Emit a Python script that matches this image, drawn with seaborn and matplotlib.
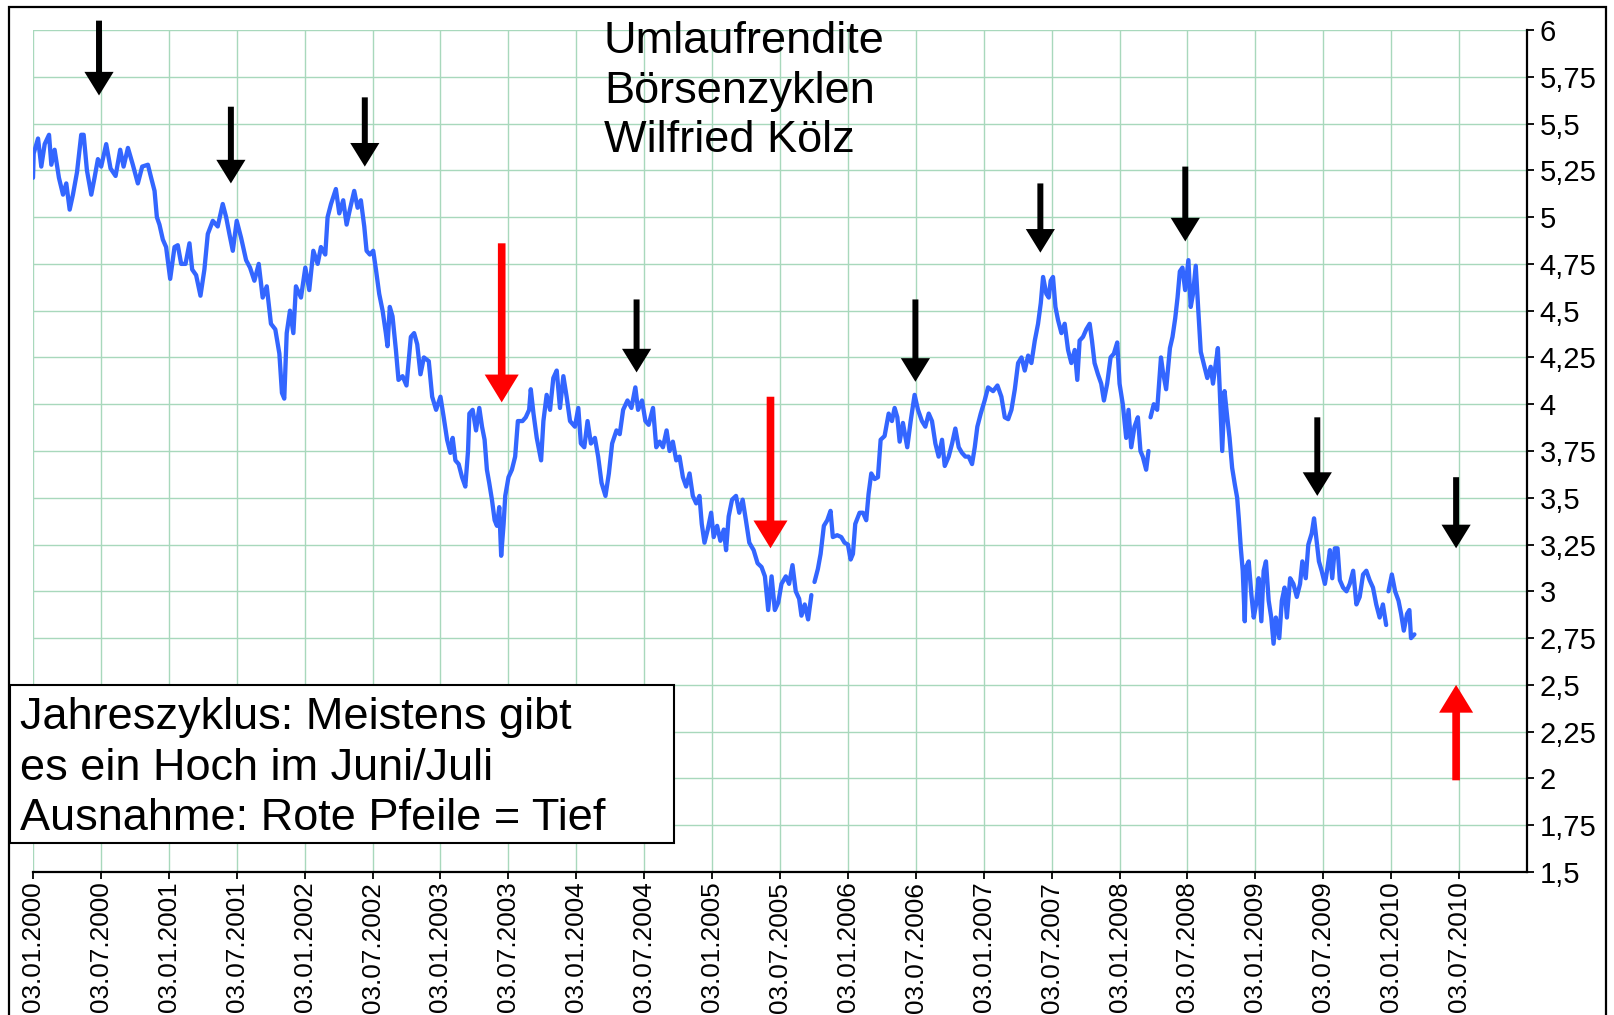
import numpy as np
import pandas as pd
import seaborn as sns
import matplotlib.pyplot as plt
from matplotlib.patches import Rectangle

# Umlaufrendite (years after 03.01.2000, percent); nan = gap in the series
years_since_start = [
    0.000, 0.005, 0.037, 0.061, 0.086, 0.118, 0.135, 0.159, 0.191, 0.221, 0.245, 0.270, 0.294, 0.324,
    0.355, 0.373, 0.397, 0.429, 0.453, 0.478, 0.502, 0.539, 0.571, 0.608, 0.642, 0.667, 0.699, 0.735,
    0.772, 0.804, 0.846, 0.870, 0.895, 0.912, 0.931, 0.956, 0.980, 1.010, 1.042, 1.066, 1.091, 1.123,
    1.152, 1.172, 1.201, 1.233, 1.262, 1.287, 1.324, 1.360, 1.397, 1.422, 1.446, 1.471, 1.500, 1.532,
    1.569, 1.598, 1.630, 1.662, 1.691, 1.721, 1.752, 1.784, 1.814, 1.833, 1.850, 1.868, 1.892, 1.917,
    1.936, 1.973, 2.005, 2.034, 2.064, 2.096, 2.120, 2.152, 2.169, 2.194, 2.230, 2.255, 2.284, 2.309,
    2.333, 2.365, 2.390, 2.414, 2.439, 2.456, 2.480, 2.505, 2.525, 2.549, 2.574, 2.598, 2.610, 2.627,
    2.647, 2.672, 2.691, 2.721, 2.750, 2.782, 2.806, 2.829, 2.853, 2.878, 2.914, 2.939, 2.968, 3.000,
    3.024, 3.049, 3.073, 3.090, 3.110, 3.134, 3.159, 3.183, 3.203, 3.213, 3.237, 3.262, 3.286, 3.306,
    3.325, 3.342, 3.359, 3.379, 3.399, 3.416, 3.433, 3.447, 3.465, 3.477, 3.501, 3.526, 3.550, 3.570,
    3.604, 3.628, 3.653, 3.665, 3.685, 3.709, 3.741, 3.758, 3.782, 3.807, 3.831, 3.856, 3.880, 3.905,
    3.929, 3.954, 3.990, 4.015, 4.034, 4.059, 4.083, 4.108, 4.137, 4.161, 4.186, 4.215, 4.240, 4.264,
    4.296, 4.320, 4.345, 4.377, 4.406, 4.435, 4.455, 4.484, 4.509, 4.533, 4.565, 4.589, 4.614, 4.638,
    4.665, 4.687, 4.711, 4.736, 4.760, 4.785, 4.809, 4.834, 4.858, 4.883, 4.907, 4.924, 4.944, 4.968,
    4.993, 5.012, 5.037, 5.061, 5.086, 5.103, 5.122, 5.147, 5.176, 5.200, 5.225, 5.249, 5.274, 5.306,
    5.335, 5.364, 5.389, 5.413, 5.438, 5.462, 5.487, 5.511, 5.543, 5.567, 5.592, 5.616, 5.641, 5.658,
    5.682, 5.707, 5.731, 5.742,
    5.754, 5.779, 5.799, 5.823, 5.848, 5.872, 5.889, 5.921, 5.951, 5.975, 6.000, 6.020, 6.037, 6.054,
    6.086, 6.111, 6.135, 6.152, 6.172, 6.197, 6.221, 6.241, 6.270, 6.300, 6.324, 6.344, 6.364, 6.381,
    6.405, 6.437, 6.462, 6.491, 6.516, 6.545, 6.570, 6.595, 6.619, 6.644, 6.668, 6.693, 6.713, 6.742,
    6.767, 6.791, 6.816, 6.840, 6.865, 6.889, 6.914, 6.934, 6.953, 6.978, 7.007, 7.032, 7.069, 7.101,
    7.130, 7.155, 7.180, 7.204, 7.229, 7.253, 7.278, 7.302, 7.327, 7.351, 7.376, 7.400, 7.420, 7.437,
    7.461, 7.479, 7.493, 7.510, 7.528, 7.547, 7.572, 7.596, 7.621, 7.645, 7.670, 7.689, 7.706, 7.731,
    7.755, 7.780, 7.797, 7.816, 7.841, 7.865, 7.885, 7.909, 7.934, 7.958, 7.983, 8.000, 8.024, 8.049,
    8.066, 8.086, 8.110, 8.135, 8.154, 8.171, 8.196, 8.213, 8.220,
    8.228, 8.252, 8.277, 8.305, 8.318, 8.343, 8.371, 8.390, 8.410, 8.427, 8.444, 8.463, 8.483, 8.507,
    8.524, 8.541, 8.561, 8.580, 8.598, 8.622, 8.646, 8.671, 8.688, 8.707, 8.724, 8.737, 8.756, 8.773,
    8.793, 8.810, 8.829, 8.849, 8.866, 8.878, 8.893, 8.907, 8.922, 8.932, 8.951, 8.971, 8.988, 9.005,
    9.024, 9.044, 9.061, 9.078, 9.098, 9.117, 9.134, 9.151, 9.176, 9.195, 9.215, 9.232, 9.256, 9.280,
    9.305, 9.329, 9.346, 9.371, 9.390, 9.415, 9.432, 9.451, 9.468, 9.488, 9.512, 9.532, 9.549, 9.566,
    9.585, 9.605, 9.622, 9.646, 9.671, 9.695, 9.720, 9.744, 9.768, 9.793, 9.817, 9.841, 9.866, 9.890,
    9.915, 9.939, 9.963, 9.971,
    9.980, 10.005, 10.029, 10.054, 10.073, 10.093, 10.117, 10.134, 10.146, 10.171,
]
yield_pct = [
    5.21, 5.34, 5.42, 5.27, 5.39, 5.44, 5.28, 5.36, 5.21, 5.12, 5.18, 5.04, 5.12, 5.24,
    5.44, 5.44, 5.25, 5.12, 5.21, 5.31, 5.27, 5.39, 5.26, 5.22, 5.36, 5.27, 5.37, 5.28,
    5.18, 5.27, 5.28, 5.21, 5.14, 5.00, 4.96, 4.88, 4.84, 4.67, 4.84, 4.85, 4.75, 4.75,
    4.86, 4.72, 4.69, 4.58, 4.72, 4.91, 4.98, 4.95, 5.07, 5.00, 4.91, 4.82, 4.98, 4.89,
    4.77, 4.73, 4.66, 4.75, 4.57, 4.63, 4.43, 4.40, 4.27, 4.06, 4.03, 4.38, 4.50, 4.38,
    4.63, 4.57, 4.73, 4.61, 4.82, 4.75, 4.84, 4.80, 5.00, 5.07, 5.15, 5.02, 5.09, 4.96,
    5.04, 5.14, 5.05, 5.09, 4.95, 4.82, 4.80, 4.82, 4.72, 4.59, 4.50, 4.38, 4.31, 4.52,
    4.47, 4.29, 4.13, 4.15, 4.10, 4.36, 4.38, 4.32, 4.16, 4.25, 4.23, 4.04, 3.97, 4.04,
    3.93, 3.81, 3.74, 3.82, 3.70, 3.68, 3.61, 3.56, 3.75, 3.95, 3.97, 3.86, 3.98, 3.88,
    3.81, 3.65, 3.58, 3.49, 3.38, 3.35, 3.45, 3.19, 3.36, 3.51, 3.61, 3.65, 3.72, 3.91,
    3.91, 3.93, 3.97, 4.08, 3.95, 3.82, 3.70, 3.91, 4.05, 3.97, 4.14, 4.18, 3.98, 4.15,
    4.04, 3.91, 3.88, 3.98, 3.79, 3.77, 3.91, 3.79, 3.82, 3.72, 3.58, 3.51, 3.63, 3.79,
    3.86, 3.84, 3.97, 4.02, 3.98, 4.09, 3.97, 4.02, 3.91, 3.89, 3.98, 3.77, 3.80, 3.77,
    3.86, 3.75, 3.80, 3.70, 3.72, 3.61, 3.56, 3.63, 3.51, 3.47, 3.51, 3.36, 3.26, 3.33,
    3.42, 3.29, 3.35, 3.27, 3.33, 3.22, 3.40, 3.49, 3.51, 3.42, 3.49, 3.38, 3.26, 3.22,
    3.15, 3.13, 3.08, 2.90, 3.08, 2.90, 2.94, 3.04, 3.08, 3.04, 3.14, 3.00, 2.96, 2.87,
    2.93, 2.85, 2.98, np.nan,
    3.05, 3.12, 3.20, 3.35, 3.38, 3.43, 3.29, 3.30, 3.29, 3.26, 3.25, 3.17, 3.20, 3.36,
    3.42, 3.42, 3.38, 3.52, 3.63, 3.60, 3.61, 3.81, 3.83, 3.95, 3.91, 3.98, 3.93, 3.80,
    3.90, 3.77, 3.91, 4.05, 3.97, 3.91, 3.88, 3.95, 3.91, 3.79, 3.72, 3.81, 3.67, 3.72,
    3.79, 3.87, 3.77, 3.74, 3.72, 3.72, 3.68, 3.77, 3.88, 3.95, 4.02, 4.09, 4.07, 4.10,
    4.04, 3.93, 3.92, 3.97, 4.08, 4.22, 4.25, 4.18, 4.26, 4.22, 4.34, 4.43, 4.54, 4.68,
    4.59, 4.57, 4.66, 4.68, 4.52, 4.45, 4.38, 4.43, 4.29, 4.22, 4.29, 4.13, 4.34, 4.36,
    4.40, 4.43, 4.34, 4.22, 4.16, 4.11, 4.02, 4.11, 4.25, 4.27, 4.33, 4.11, 4.00, 3.82,
    3.97, 3.77, 3.88, 3.93, 3.75, 3.72, 3.65, 3.75, np.nan,
    3.93, 4.00, 3.97, 4.25, 4.18, 4.08, 4.30, 4.36, 4.46, 4.57, 4.71, 4.73, 4.61, 4.77,
    4.52, 4.59, 4.74, 4.50, 4.28, 4.21, 4.14, 4.20, 4.11, 4.21, 4.30, 4.09, 3.75, 4.07,
    3.93, 3.82, 3.66, 3.57, 3.50, 3.39, 3.23, 3.11, 2.84, 3.13, 3.16, 2.98, 2.86, 2.93,
    3.07, 2.84, 3.11, 3.16, 2.95, 2.86, 2.72, 2.86, 2.75, 2.95, 3.02, 2.86, 3.07, 3.04,
    2.97, 3.04, 3.16, 3.07, 3.25, 3.31, 3.39, 3.27, 3.16, 3.11, 3.04, 3.13, 3.22, 3.07,
    3.23, 3.23, 3.06, 3.02, 3.00, 3.04, 3.11, 2.93, 2.97, 3.09, 3.11, 3.06, 3.02, 2.93,
    2.86, 2.93, 2.82, np.nan,
    3.00, 3.09, 3.00, 2.95, 2.88, 2.79, 2.88, 2.90, 2.75, 2.77,
]

# year-cycle arrows: position, start and end value, colour
arrow_years = [0.486, 1.457, 2.443, 3.451, 4.444, 5.430, 6.497, 7.417, 8.484, 9.456, 10.478, 10.478]
arrow_from = [6.05, 5.59, 5.64, 4.86, 4.56, 4.04, 4.56, 5.18, 5.27, 3.93, 3.61, 1.99]
arrow_to = [5.65, 5.18, 5.27, 4.01, 4.17, 3.23, 4.12, 4.81, 4.87, 3.51, 3.23, 2.50]
arrow_colors = ['black', 'black', 'black', 'red', 'black', 'red', 'black', 'black', 'black', 'black', 'black', 'red']

tick_years = list(range(2000, 2011))
x_ticks = [y + h for y in tick_years for h in (0.0, 0.5)]
x_tick_labels = [f"03.{m}.{y}" for y in tick_years for m in ('01', '07')]
y_ticks = [1.5, 1.75, 2, 2.25, 2.5, 2.75, 3, 3.25, 3.5, 3.75, 4, 4.25, 4.5, 4.75, 5, 5.25, 5.5, 5.75, 6]
y_tick_labels = ['1,5', '1,75', '2', '2,25', '2,5', '2,75', '3', '3,25', '3,5', '3,75', '4',
                 '4,25', '4,5', '4,75', '5', '5,25', '5,5', '5,75', '6']

title_text = "Umlaufrendite\nBörsenzyklen\nWilfried Kölz"
note_text = "Jahreszyklus: Meistens gibt\nes ein Hoch im Juni/Juli\nAusnahme: Rote Pfeile = Tief"

sns.set_theme(style="white")
plt.rcParams['font.family'] = ['Liberation Sans', 'DejaVu Sans']

df = pd.DataFrame({'x': 2000 + np.array(years_since_start), 'y': yield_pct})
df['segment'] = df['y'].isna().cumsum()
df = df.dropna()

W, H = 1615, 1015
fig = plt.figure(figsize=(W / 100, H / 100), dpi=100)
ax = fig.add_axes([33 / W, 1 - 872 / H, (1527 - 33) / W, (872 - 30) / H])

sns.lineplot(data=df, x='x', y='y', units='segment', estimator=None, sort=False,
             color='#3366ff', lw=3.1, ax=ax)

for t, y0, y1, c in zip(arrow_years, arrow_from, arrow_to, arrow_colors):
    if c == 'red':
        style = "simple,head_length=20,head_width=24.5,tail_width=5.5"
    else:
        style = "simple,head_length=17,head_width=21,tail_width=4.3"
    ax.annotate("", xy=(2000 + t, y1), xytext=(2000 + t, y0), annotation_clip=False,
                arrowprops=dict(arrowstyle=style, mutation_scale=1, color=c, lw=0,
                                shrinkA=0, shrinkB=0, clip_on=False))

ax.set_xlim(2000, 2011)
ax.set_ylim(1.5, 6)
ax.set_xticks(x_ticks)
ax.set_xticklabels(x_tick_labels, rotation=90, fontsize=18.8, color='black', va='top')
ax.yaxis.tick_right()
ax.set_yticks(y_ticks)
ax.set_yticklabels(y_tick_labels, fontsize=21, color='black')
ax.set_xlabel('')
ax.set_ylabel('')
ax.grid(True, color='#a8d8bc', lw=1)
ax.set_axisbelow(True)
for side in ('left', 'top'):
    ax.spines[side].set_visible(False)
for side in ('right', 'bottom'):
    ax.spines[side].set_color('black')
    ax.spines[side].set_linewidth(1.6)
ax.tick_params(axis='x', bottom=True, direction='out', length=5, width=1.3, pad=2, colors='black')
ax.tick_params(axis='y', right=True, left=False, direction='out', length=5, width=1.3, pad=4, colors='black')

fig.text(604 / W, 1 - 21 / H, title_text, fontsize=32.5, color='black',
         va='top', ha='left', linespacing=1.27)

fig.add_artist(Rectangle((10 / W, 1 - 843 / H), (674 - 10) / W, (843 - 685) / H,
                         transform=fig.transFigure, facecolor='white', edgecolor='black', lw=1.5))
fig.text(20 / W, 1 - 697 / H, note_text, fontsize=32.5, color='black',
         va='top', ha='left', linespacing=1.30)

# outer chart frame
fig.add_artist(Rectangle((9 / W, -0.1), (1606 - 9) / W, 1.1 - 7 / H, transform=fig.transFigure,
                         fill=False, edgecolor='black', lw=1.6))

fig.savefig('out.png', dpi=100)
